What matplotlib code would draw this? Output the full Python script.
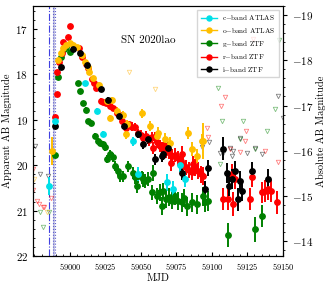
import numpy as np
import matplotlib
matplotlib.use("Agg")
import matplotlib.pyplot as plt
from matplotlib.lines import Line2D

plt.rcParams['font.family'] = 'serif'
plt.rcParams['font.serif'] = ['cmr10']
plt.rcParams['mathtext.fontset'] = 'cm'
plt.rcParams['axes.formatter.use_mathtext'] = True

# distance modulus used for the absolute magnitude axis
mu = 35.67

# r-band ZTF
r_mjd = [58989.5, 58990.7, 58991.1, 58992.5, 58994.2, 58995.3, 58998.9, 59000.0, 59006.6, 59008.7,
         59011.3, 59012.9, 59015.3, 59017.2, 59018.4, 59021.9, 59023.5, 59025.4, 59028.0, 59030.5,
         59032.9, 59035.0, 59037.0, 59039.3, 59041.5, 59044.0, 59045.8, 59048.0, 59050.0, 59051.7,
         59053.5, 59055.5, 59057.5, 59059.9, 59061.5, 59063.4, 59065.0, 59066.5, 59068.0, 59070.0,
         59072.0, 59074.0, 59076.0, 59078.0, 59080.0, 59082.0, 59084.0, 59086.0, 59088.0, 59090.0,
         59092.0, 59093.7, 59107.8, 59111.3, 59114.0, 59114.8, 59116.3, 59126.8, 59128.0, 59135.0,
         59137.4, 59139.5, 59142.0, 59145.6, 59058.5, 59071.0, 59079.0, 59087.0]
r_mag = [18.93, 18.43, 17.96, 17.72, 17.53, 17.30, 17.18, 16.93, 17.42, 17.62,
         17.77, 17.86, 18.10, 18.19, 18.30, 18.58, 18.60, 18.63, 18.69, 18.75,
         18.85, 18.90, 19.02, 19.18, 19.10, 19.15, 19.16, 19.30, 19.33, 19.40,
         19.35, 19.45, 19.38, 19.40, 19.50, 19.58, 19.62, 19.55, 19.70, 19.72,
         19.80, 19.78, 19.85, 19.90, 20.00, 20.05, 20.10, 20.15, 20.05, 20.12,
         20.20, 20.24, 20.75, 20.75, 20.20, 20.86, 20.31, 20.75, 20.27, 20.60,
         20.57, 20.53, 20.57, 20.82, 19.62, 19.95, 19.75, 19.98]
r_err = [0.04, 0.04, 0.03, 0.03, 0.03, 0.03, 0.03, 0.04, 0.03, 0.03,
         0.03, 0.03, 0.04, 0.04, 0.04, 0.05, 0.05, 0.05, 0.05, 0.06,
         0.06, 0.06, 0.07, 0.07, 0.08, 0.09, 0.09, 0.10, 0.10, 0.11,
         0.11, 0.12, 0.12, 0.12, 0.13, 0.13, 0.14, 0.14, 0.15, 0.15,
         0.15, 0.16, 0.16, 0.17, 0.17, 0.17, 0.18, 0.18, 0.18, 0.18,
         0.19, 0.20, 0.24, 0.24, 0.22, 0.26, 0.22, 0.24, 0.22, 0.24,
         0.24, 0.24, 0.24, 0.26, 0.14, 0.17, 0.17, 0.18]

# g-band ZTF
g_mjd = [58989.5, 58991.8, 58993.5, 58996.0, 58997.5, 59000.0, 59005.9, 59007.1, 59009.4, 59011.3,
         59012.9, 59014.6, 59017.7, 59020.0, 59021.2, 59023.5, 59025.0, 59025.9, 59028.2, 59030.5,
         59031.7, 59034.1, 59035.3, 59037.6, 59041.1, 59044.6, 59045.8, 59047.0, 59048.0, 59050.5,
         59051.7, 59052.9, 59055.0, 59057.6, 59058.7, 59061.1, 59063.4, 59064.6, 59065.8, 59068.0,
         59070.0, 59072.0, 59074.0, 59076.3, 59078.7, 59080.5, 59082.2, 59085.7, 59089.3, 59093.9,
         59095.1, 59097.0, 59111.5, 59130.3, 59135.0]
g_mag = [19.78, 18.06, 17.62, 17.45, 17.40, 17.52, 18.19, 18.37, 18.64, 18.78,
         19.03, 19.07, 19.36, 19.47, 19.51, 19.54, 19.60, 19.87, 19.76, 19.83,
         20.02, 20.13, 20.24, 20.24, 20.02, 20.17, 20.27, 20.46, 20.24, 20.27,
         20.31, 20.35, 20.30, 20.60, 20.17, 20.68, 20.60, 20.90, 20.57, 20.75,
         20.70, 20.78, 20.68, 20.79, 20.82, 20.72, 20.90, 20.82, 20.86, 20.68,
         20.82, 20.79, 21.54, 21.41, 21.11]
g_err = [0.06, 0.04, 0.03, 0.03, 0.03, 0.03, 0.04, 0.04, 0.05, 0.05,
         0.05, 0.06, 0.06, 0.07, 0.07, 0.08, 0.08, 0.09, 0.09, 0.10,
         0.11, 0.11, 0.12, 0.12, 0.12, 0.13, 0.14, 0.15, 0.15, 0.15,
         0.16, 0.16, 0.16, 0.17, 0.17, 0.18, 0.18, 0.19, 0.18, 0.19,
         0.19, 0.19, 0.19, 0.20, 0.20, 0.20, 0.21, 0.21, 0.21, 0.21,
         0.22, 0.22, 0.27, 0.27, 0.24]

# o-band ATLAS
o_mjd = [58987.6, 58991.8, 58993.5, 58995.3, 58997.2, 59000.0, 59002.4, 59004.8, 59008.3, 59010.6,
         59012.9, 59013.5, 59016.5, 59020.5, 59025.9, 59028.2, 59029.4, 59032.9, 59037.6, 59039.3,
         59040.0, 59050.5, 59056.4, 59061.1, 59062.2, 59067.0, 59070.5, 59083.4, 59085.7, 59089.3,
         59092.8, 59093.9]
o_mag = [19.69, 17.68, 17.53, 17.42, 17.35, 17.31, 17.35, 17.39, 17.57, 17.72,
         17.83, 17.94, 18.08, 18.23, 18.59, 18.96, 18.57, 18.80, 18.89, 19.32,
         19.10, 18.86, 19.14, 19.36, 19.29, 19.43, 19.51, 19.29, 19.65, 19.80,
         19.47, 19.47]
o_err = [0.30, 0.03, 0.03, 0.03, 0.03, 0.03, 0.03, 0.03, 0.04, 0.04,
         0.04, 0.04, 0.05, 0.05, 0.06, 0.07, 0.06, 0.07, 0.08, 0.10,
         0.10, 0.10, 0.11, 0.12, 0.12, 0.13, 0.13, 0.13, 0.15, 0.16,
         0.16, 0.40]

# c-band ATLAS
c_mjd = [58985.5, 58989.5, 59010.6, 59018.8, 59023.0, 59044.2, 59047.8, 59068.6, 59072.8, 59077.5, 59081.0]
c_mag = [20.46, 19.03, 18.19, 18.80, 19.31, 19.47, 20.19, 20.38, 20.53, 20.00, 20.31]
c_err = [0.20, 0.04, 0.04, 0.06, 0.07, 0.10, 0.15, 0.18, 0.18, 0.15, 0.17]

# i-band ZTF
i_mjd = [58989.5, 58993.7, 59002.4, 59007.1, 59012.2, 59021.9, 59027.0, 59034.8, 59038.1, 59048.2,
         59051.7, 59055.2, 59059.9, 59064.6, 59065.8, 59069.3, 59078.7, 59095.1, 59097.5, 59108.0,
         59110.4, 59112.0, 59113.9, 59116.3, 59118.6, 59119.8, 59121.0, 59128.0, 59139.7]
i_mag = [19.14, 17.83, 17.45, 17.53, 17.79, 18.32, 18.56, 18.91, 19.13, 19.31,
         19.54, 19.43, 19.87, 19.80, 19.76, 19.62, 20.17, 20.53, 20.06, 19.64,
         20.17, 20.46, 20.31, 20.13, 20.75, 20.35, 20.57, 20.13, 20.30]
i_err = [0.05, 0.04, 0.03, 0.03, 0.04, 0.05, 0.06, 0.07, 0.08, 0.09,
         0.10, 0.10, 0.12, 0.12, 0.12, 0.12, 0.15, 0.18, 0.17, 0.25,
         0.22, 0.22, 0.22, 0.22, 0.25, 0.22, 0.22, 0.20, 0.22]

# upper limits
r_lim_mjd = [58974.2, 58974.3, 58976.6, 58978.5, 58980.8, 58982.0, 58986.4, 59096.3, 59097.4, 59106.2,
             59109.2, 59113.0, 59119.8, 59123.3, 59124.0, 59129.0, 59137.4, 59146.8]
r_lim_mag = [20.08, 20.55, 20.79, 20.86, 20.93, 20.93, 20.73, 19.18, 19.37, 18.69,
             18.50, 19.65, 19.71, 19.47, 19.25, 17.23, 19.69, 19.92]
g_lim_mjd = [58978.9, 58981.3, 58985.5, 59104.5, 59105.7, 59107.3, 59119.8, 59121.7, 59130.4, 59138.5,
             59144.4, 59147.5]
g_lim_mag = [21.04, 21.37, 21.03, 18.30, 19.98, 19.03, 19.42, 19.03, 19.65, 19.25,
             18.76, 17.24]
i_lim_mjd = [58975.4, 58978.9, 58984.8, 59093.0, 59098.2, 59105.7, 59108.0, 59112.7, 59113.9, 59115.0,
             59119.8, 59124.4, 59130.4, 59135.0, 59146.8, 59149.8]
i_lim_mag = [19.58, 20.20, 20.24, 19.60, 19.49, 19.73, 19.73, 19.62, 19.80, 19.69,
             19.40, 19.73, 19.62, 19.76, 18.47, 18.96]
o_lim_mjd = [58974.7, 58983.6, 59041.8, 59059.9]
o_lim_mag = [20.30, 21.03, 17.96, 18.32]

# explosion epoch estimates
t_line = 58985.3
t_band = (58988.0, 58989.7)

fig = plt.figure(figsize=(3.27, 2.89), dpi=100)
ax = fig.add_axes([0.101, 0.114, 0.764, 0.865])

ax.axvline(t_line, color='#4040e0', ls='-.', lw=0.8)
ax.axvspan(t_band[0], t_band[1], color='#b0b0d8', alpha=0.7, lw=0)
ax.axvline(t_band[0], color='#6060d0', ls=':', lw=0.8)
ax.axvline(t_band[1], color='#6060d0', ls=':', lw=0.8)

lim_style = dict(ls='none', marker='v', mfc='none', ms=3.2, mew=0.6, alpha=0.5)
ax.plot(r_lim_mjd, r_lim_mag, mec='red', **lim_style)
ax.plot(g_lim_mjd, g_lim_mag, mec='green', **lim_style)
ax.plot(i_lim_mjd, i_lim_mag, mec='black', **lim_style)
ax.plot(o_lim_mjd, o_lim_mag, mec='#ffb000', **lim_style)

bands = [
    (g_mjd, g_mag, g_err, 'green'),
    (r_mjd, r_mag, r_err, 'red'),
    (o_mjd, o_mag, o_err, '#ffbf00'),
    (i_mjd, i_mag, i_err, 'black'),
    (c_mjd, c_mag, c_err, '#00e0e8'),
]
for x, y, e, col in bands:
    ax.errorbar(x, y, yerr=e, fmt='o', color=col, ms=3.9, elinewidth=1.4, capsize=0)

ax.text(59055, 17.25, 'SN 2020lao', ha='center', va='center', fontsize=8)

ax.set_xlim(58974, 59150)
ax.set_ylim(22, 16.5)
ax.set_xticks([59000, 59025, 59050, 59075, 59100, 59125, 59150])
ax.set_xticks(np.arange(58975, 59150, 5), minor=True)
ax.set_yticks([17, 18, 19, 20, 21, 22])
ax.set_yticks(np.arange(16.6, 22, 0.2), minor=True)
ax.tick_params(axis='x', which='both', direction='in', labelsize=6)
ax.tick_params(axis='y', which='both', direction='in', labelsize=8)
ax.tick_params(which='major', length=3)
ax.tick_params(which='minor', length=1.5)
ax.set_xlabel('MJD', fontsize=7.5, labelpad=1)
ax.set_ylabel('Apparent AB Magnitude', fontsize=7.5, labelpad=2)

ax2 = ax.twinx()
ax2.set_ylim(22 - mu, 16.5 - mu)
ax2.set_yticks([-19, -18, -17, -16, -15, -14])
ax2.set_yticks(np.arange(-19.2, -13.6, 0.2), minor=True)
ax2.tick_params(axis='y', which='both', labelsize=8)
ax2.tick_params(which='major', length=3)
ax2.tick_params(which='minor', length=1.5)
ax2.set_ylabel('Absolute AB Magnitude', fontsize=7.5, labelpad=2)

labels = ['c$-$band ATLAS', 'o$-$band ATLAS', 'g$-$band ZTF', 'r$-$band ZTF', 'i$-$band ZTF']
cols = ['#00e0e8', '#ffbf00', 'green', 'red', 'black']
handles = [Line2D([], [], color=c, marker='o', ms=3.6, lw=1) for c in cols]
ax.legend(handles, labels, loc='upper right', fontsize=5.2, frameon=True, fancybox=False,
          edgecolor='#cccccc', handlelength=2.2, borderpad=0.5, labelspacing=0.5)

fig.savefig('out.png', dpi=100)
